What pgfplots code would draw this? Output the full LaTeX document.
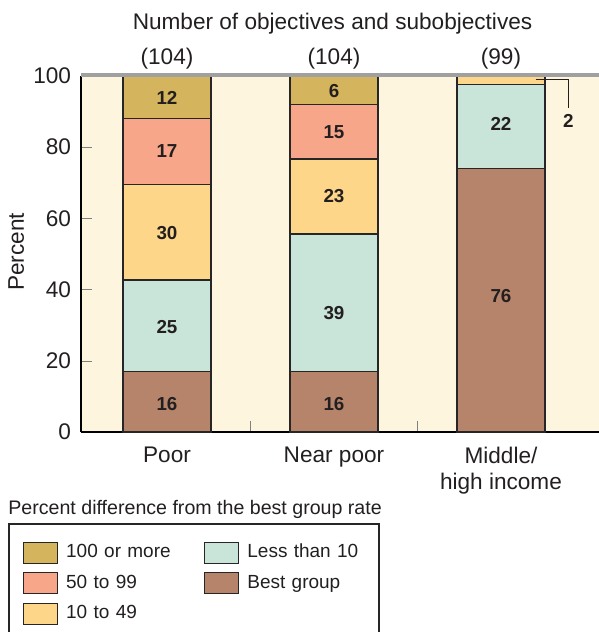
\documentclass[border=0pt]{standalone}
\usepackage{pgfplots}
\pgfplotsset{compat=1.18}
\usepackage{pgfplotstable}
\usepackage{fontspec}
\setmainfont{Liberation Sans}
\definecolor{chund}{RGB}{212,180,92}
\definecolor{cfifty}{RGB}{247,166,138}
\definecolor{cten}{RGB}{253,214,138}
\definecolor{cless}{RGB}{201,229,218}
\definecolor{cbest}{RGB}{181,132,106}
\definecolor{bg}{RGB}{254,245,223}
\definecolor{txt}{RGB}{35,31,32}
\definecolor{topgray}{RGB}{160,160,160}
\pgfplotstableread{
xx best less ten fifty hund
0 17 25.7 26.9 18.5 11.9
1 17 38.6 21.1 15.4 7.9
2 74 23.6 2.4 0 0
}\bartab
\begin{document}
\begin{tikzpicture}[font=\fontsize{11.3}{13.5}\selectfont,
  lab/.style={font=\fontsize{9.4}{11}\selectfont\bfseries, text=txt}]
\begin{axis}[
  at={(0,0)}, anchor=south west,
  scale only axis, width=259pt, height=178pt,
  xmin=-0.515, xmax=2.587, ymin=0, ymax=100,
  ybar stacked, bar width=44pt,
  axis background/.style={fill=bg},
  axis x line=bottom, axis y line=left,
  axis line style={-, black, line width=0.65pt},
  xtick={0.5,1.5}, xticklabels={},
  extra x ticks={0,1,2},
  extra x tick labels={Poor, Near poor, {Middle/\\high income}},
  extra x tick style={major tick length=0pt},
  tick align=inside,
  major tick length=5.5pt,
  ytick={0,20,...,100},
  xticklabel style={align=center, inner sep=0pt, yshift=-7.5pt, text=txt, font=\fontsize{11.3}{13}\selectfont},
  yticklabel style={inner sep=0pt, xshift=-4.8pt, text=txt},
  /pgf/number format/assume math mode=true,
  clip=false,
  legend image code/.code={\draw[#1] (0pt,-5.25pt) rectangle (17pt,5.25pt);},
  legend columns=2,
  legend style={at={(axis description cs:-0.112,-0.308)}, anchor=north west, draw=none, fill=none,
    inner sep=0pt, outer sep=0pt, font=\fontsize{9.5}{11}\selectfont, row sep=4.2pt, column sep=0pt,
    nodes={inner xsep=4pt, inner ysep=0pt, text width=65pt, align=left, text height=7.5pt, text depth=2.5pt, anchor=west, text=txt}},
  legend cell align=left,
]
\addlegendimage{fill=chund, draw=black!85, line width=0.6pt}
\addlegendentry{100 or more}
\addlegendimage{fill=cless, draw=black!85, line width=0.6pt}
\addlegendentry{Less than 10}
\addlegendimage{fill=cfifty, draw=black!85, line width=0.6pt}
\addlegendentry{50 to 99}
\addlegendimage{fill=cbest, draw=black!85, line width=0.6pt}
\addlegendentry{Best group}
\addlegendimage{fill=cten, draw=black!85, line width=0.6pt}
\addlegendentry{10 to 49}

\addplot[fill=cbest, draw=black!85, line width=0.6pt, forget plot] table[x=xx, y=best] {\bartab};
\addplot[fill=cless, draw=black!85, line width=0.6pt, forget plot] table[x=xx, y=less] {\bartab};
\addplot[fill=cten, draw=black!85, line width=0.6pt, forget plot] table[x=xx, y=ten] {\bartab};
\addplot[fill=cfifty, draw=black!85, line width=0.6pt, forget plot] table[x=xx, y=fifty] {\bartab};
\addplot[fill=chund, draw=black!85, line width=0.6pt, forget plot] table[x=xx, y=hund] {\bartab};

\coordinate (tl) at (rel axis cs:0,1);
\coordinate (tr) at (rel axis cs:1,1);
\coordinate (a1) at (axis cs:0,7.8);
\coordinate (a2) at (axis cs:0,29.4);
\coordinate (a3) at (axis cs:0,55.8);
\coordinate (a4) at (axis cs:0,79.0);
\coordinate (a5) at (axis cs:0,93.7);
\coordinate (b1) at (axis cs:1,7.8);
\coordinate (b2) at (axis cs:1,33.3);
\coordinate (b3) at (axis cs:1,66.4);
\coordinate (b4) at (axis cs:1,84.2);
\coordinate (b5) at (axis cs:1,95.9);
\coordinate (c1) at (axis cs:2,38.3);
\coordinate (c2) at (axis cs:2,86.5);
\coordinate (c3) at (axis cs:2.403,87.4);
\coordinate (l1) at (axis cs:2.208,98.9);
\coordinate (l2) at (axis cs:2.402,90.9);

\node[anchor=base, text=txt] at (axis cs:0,103.3) {(104)};
\node[anchor=base, text=txt] at (axis cs:1,103.3) {(104)};
\node[anchor=base, text=txt] at (axis cs:2,103.3) {(99)};
\end{axis}
\draw[topgray, line width=1.6pt] ([yshift=0.5pt]tl) -- ([yshift=0.5pt]tr);
\node[lab] at (a1) {16};
\node[lab] at (a2) {25};
\node[lab] at (a3) {30};
\node[lab] at (a4) {17};
\node[lab] at (a5) {12};
\node[lab] at (b1) {16};
\node[lab] at (b2) {39};
\node[lab] at (b3) {23};
\node[lab] at (b4) {15};
\node[lab] at (b5) {6};
\node[lab] at (c1) {76};
\node[lab] at (c2) {22};
\node[lab] at (c3) {2};
\draw[txt, line width=0.5pt] (l1) -| (l2);
\node[anchor=base, text=txt] at (125.75pt,201pt) {Number of objectives and subobjectives};
\node[anchor=base, rotate=90, text=txt] at (-28.5pt,90pt) {Percent};
\node[anchor=base west, inner sep=0pt, text=txt, font=\fontsize{9.8}{12}\selectfont] at (-36.5pt,-41pt) {Percent difference from the best group rate};
\draw[black!85, line width=0.6pt] (-36pt,-46pt) rectangle (149pt,-130pt);
\pgfresetboundingbox
\path[use as bounding box] (-40.5pt,-100pt) rectangle (259pt,216pt);
\end{tikzpicture}
\end{document}
